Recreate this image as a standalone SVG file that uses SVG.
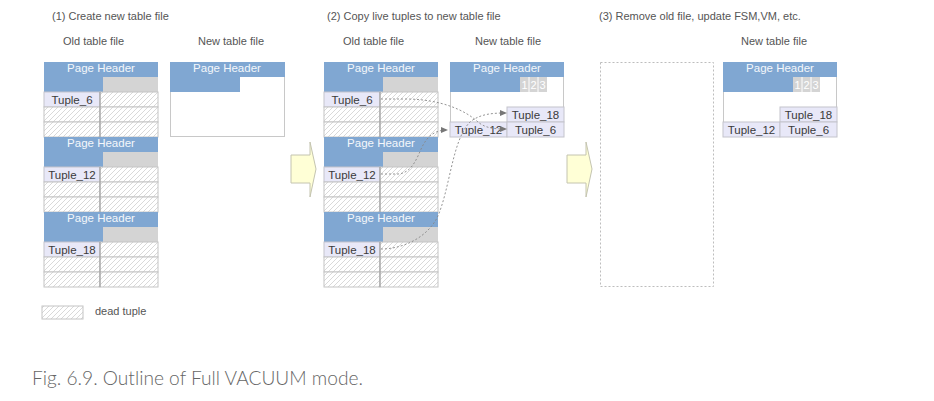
<svg xmlns="http://www.w3.org/2000/svg" width="934" height="401" viewBox="0 0 934 401">
<style>
text{font-family:"Liberation Sans",Arial,sans-serif;}
.lbl{font-size:11px;fill:#555;}
.ph{font-size:11.5px;fill:#f4f7fb;text-anchor:middle;}
.tt{font-size:11.5px;fill:#3a3a3a;text-anchor:middle;}
.num{font-size:11px;fill:#fff;text-anchor:middle;}
.hdr{fill:#80a7d2;}
.gray{fill:#d4d4d4;}
.tup{fill:#e8e8f8;stroke:#c4c4cc;stroke-width:1;}
.dead{fill:url(#hatch);stroke:#c4c4c4;stroke-width:1;}
.div{stroke:#9a9a9a;stroke-width:1;}
.frame{fill:#fff;stroke:#c8c8c8;stroke-width:1;}
.conn{fill:none;stroke:#888;stroke-width:0.9;stroke-dasharray:2,2;}
.big{fill:#ffffd6;stroke:#c4c4b0;stroke-width:1;}
</style>
<defs>
<pattern id="hatch" patternUnits="userSpaceOnUse" width="5" height="5">
<rect width="5" height="5" fill="#fff"/>
<path d="M0,5 L5,0 M-1,1 L1,-1 M4,6 L6,4" stroke="#cfcfcf" stroke-width="0.8"/>
</pattern>
<marker id="ah" markerWidth="7" markerHeight="6" refX="6" refY="3" orient="auto" markerUnits="userSpaceOnUse">
<path d="M0,0 L7,3 L0,6 z" fill="#777"/>
</marker>
</defs>
<rect width="934" height="401" fill="#fff"/>

<g id="titles">
<text class="lbl" x="52" y="20">(1) Create new table file</text>
<text class="lbl" x="63" y="45">Old table file</text>
<text class="lbl" x="198" y="45">New table file</text>
<text class="lbl" x="327" y="20">(2) Copy live tuples to new table file</text>
<text class="lbl" x="343" y="45">Old table file</text>
<text class="lbl" x="475" y="45">New table file</text>
<text class="lbl" x="599" y="20">(3) Remove old file, update FSM,VM, etc.</text>
<text class="lbl" x="741" y="45">New table file</text>
</g>

<!-- Panel 1 old table file -->
<g id="p1-old-page1">
<rect class="hdr" x="44" y="62" width="114" height="30"/>
<rect class="gray" x="103" y="77" width="55" height="15"/>
<text class="ph" x="101" y="72">Page Header</text>
<rect class="tup" x="44" y="92" width="56" height="15"/>
<rect class="dead" x="100" y="92" width="58" height="15"/>
<rect class="dead" x="44" y="107" width="56" height="15"/>
<rect class="dead" x="100" y="107" width="58" height="15"/>
<rect class="dead" x="44" y="122" width="56" height="15"/>
<rect class="dead" x="100" y="122" width="58" height="15"/>
<line class="div" x1="100" y1="92" x2="100" y2="137"/>
<text class="tt" x="72" y="104">Tuple_6</text>
</g>
<g id="p1-old-page2">
<rect class="hdr" x="44" y="137" width="114" height="30"/>
<rect class="gray" x="103" y="152" width="55" height="15"/>
<text class="ph" x="101" y="147">Page Header</text>
<rect class="tup" x="44" y="167" width="56" height="15"/>
<rect class="dead" x="100" y="167" width="58" height="15"/>
<rect class="dead" x="44" y="182" width="56" height="15"/>
<rect class="dead" x="100" y="182" width="58" height="15"/>
<rect class="dead" x="44" y="197" width="56" height="15"/>
<rect class="dead" x="100" y="197" width="58" height="15"/>
<line class="div" x1="100" y1="167" x2="100" y2="212"/>
<text class="tt" x="72" y="179">Tuple_12</text>
</g>
<g id="p1-old-page3">
<rect class="hdr" x="44" y="212" width="114" height="30"/>
<rect class="gray" x="103" y="227" width="55" height="15"/>
<text class="ph" x="101" y="222">Page Header</text>
<rect class="tup" x="44" y="242" width="56" height="15"/>
<rect class="dead" x="100" y="242" width="58" height="15"/>
<rect class="dead" x="44" y="257" width="56" height="15"/>
<rect class="dead" x="100" y="257" width="58" height="15"/>
<rect class="dead" x="44" y="272" width="56" height="15"/>
<rect class="dead" x="100" y="272" width="58" height="15"/>
<line class="div" x1="100" y1="242" x2="100" y2="287"/>
<text class="tt" x="72" y="254">Tuple_18</text>
</g>

<!-- Panel 1 new table file -->
<g id="p1-new">
<rect class="frame" x="170.5" y="62.5" width="114" height="74"/>
<rect class="hdr" x="170" y="62" width="115" height="15"/>
<rect class="hdr" x="170" y="77" width="70" height="15"/>
<text class="ph" x="227" y="72">Page Header</text>
</g>

<!-- Big arrows -->
<g id="arrow1">
<polygon class="big" points="291,155 310,155 310,142 316,169 310,197 310,183 291,183"/>
</g>
<g id="arrow2">
<polygon class="big" points="567,155 586,155 586,142 592,169 586,197 586,183 567,183"/>
</g>

<!-- Panel 2 old table file -->
<g id="p2-old-page1">
<rect class="hdr" x="324" y="62" width="114" height="30"/>
<rect class="gray" x="383" y="77" width="55" height="15"/>
<text class="ph" x="381" y="72">Page Header</text>
<rect class="tup" x="324" y="92" width="56" height="15"/>
<rect class="dead" x="380" y="92" width="58" height="15"/>
<rect class="dead" x="324" y="107" width="56" height="15"/>
<rect class="dead" x="380" y="107" width="58" height="15"/>
<rect class="dead" x="324" y="122" width="56" height="15"/>
<rect class="dead" x="380" y="122" width="58" height="15"/>
<line class="div" x1="380" y1="92" x2="380" y2="137"/>
<text class="tt" x="352" y="104">Tuple_6</text>
</g>
<g id="p2-old-page2">
<rect class="hdr" x="324" y="137" width="114" height="30"/>
<rect class="gray" x="383" y="152" width="55" height="15"/>
<text class="ph" x="381" y="147">Page Header</text>
<rect class="tup" x="324" y="167" width="56" height="15"/>
<rect class="dead" x="380" y="167" width="58" height="15"/>
<rect class="dead" x="324" y="182" width="56" height="15"/>
<rect class="dead" x="380" y="182" width="58" height="15"/>
<rect class="dead" x="324" y="197" width="56" height="15"/>
<rect class="dead" x="380" y="197" width="58" height="15"/>
<line class="div" x1="380" y1="167" x2="380" y2="212"/>
<text class="tt" x="352" y="179">Tuple_12</text>
</g>
<g id="p2-old-page3">
<rect class="hdr" x="324" y="212" width="114" height="30"/>
<rect class="gray" x="383" y="227" width="55" height="15"/>
<text class="ph" x="381" y="222">Page Header</text>
<rect class="tup" x="324" y="242" width="56" height="15"/>
<rect class="dead" x="380" y="242" width="58" height="15"/>
<rect class="dead" x="324" y="257" width="56" height="15"/>
<rect class="dead" x="380" y="257" width="58" height="15"/>
<rect class="dead" x="324" y="272" width="56" height="15"/>
<rect class="dead" x="380" y="272" width="58" height="15"/>
<line class="div" x1="380" y1="242" x2="380" y2="287"/>
<text class="tt" x="352" y="254">Tuple_18</text>
</g>

<!-- Panel 2 new table file -->
<g id="p2-new">
<rect class="frame" x="450.5" y="62.5" width="113" height="74"/>
<rect class="hdr" x="450" y="62" width="114" height="15"/>
<rect class="hdr" x="450" y="77" width="70" height="15"/>
<rect class="gray" x="520" y="77" width="27" height="15"/>
<line x1="529" y1="77" x2="529" y2="92" stroke="#fff" stroke-width="1"/>
<line x1="538" y1="77" x2="538" y2="92" stroke="#fff" stroke-width="1"/>
<text class="num" x="524.5" y="89">1</text>
<text class="num" x="533.5" y="89">2</text>
<text class="num" x="542.5" y="89">3</text>
<text class="ph" x="507" y="72">Page Header</text>
<rect class="tup" x="507" y="107" width="57" height="15"/>
<rect class="tup" x="450" y="122" width="57" height="15"/>
<rect class="tup" x="507" y="122" width="57" height="15"/>
<text class="tt" x="535.5" y="119">Tuple_18</text>
<text class="tt" x="478.5" y="134">Tuple_12</text>
<text class="tt" x="535.5" y="134">Tuple_6</text>
</g>

<!-- Panel 3 -->
<g id="p3-old-removed">
<rect x="600.5" y="62.5" width="113" height="224" fill="none" stroke="#bdbdbd" stroke-width="1" stroke-dasharray="2,2"/>
</g>
<g id="p3-new">
<rect class="frame" x="723.5" y="62.5" width="113" height="74"/>
<rect class="hdr" x="723" y="62" width="114" height="15"/>
<rect class="hdr" x="723" y="77" width="70" height="15"/>
<rect class="gray" x="793" y="77" width="27" height="15"/>
<line x1="802" y1="77" x2="802" y2="92" stroke="#fff" stroke-width="1"/>
<line x1="811" y1="77" x2="811" y2="92" stroke="#fff" stroke-width="1"/>
<text class="num" x="797.5" y="89">1</text>
<text class="num" x="806.5" y="89">2</text>
<text class="num" x="815.5" y="89">3</text>
<text class="ph" x="780" y="72">Page Header</text>
<rect class="tup" x="780" y="107" width="57" height="15"/>
<rect class="tup" x="723" y="122" width="57" height="15"/>
<rect class="tup" x="780" y="122" width="57" height="15"/>
<text class="tt" x="808.5" y="119">Tuple_18</text>
<text class="tt" x="751.5" y="134">Tuple_12</text>
<text class="tt" x="808.5" y="134">Tuple_6</text>
</g>

<!-- Connectors -->
<g id="connectors">
<path class="conn" d="M381,99 H405 C440,99 465,110 478,122 C485,128 494,129 506,129" marker-end="url(#ah)"/>
<path class="conn" d="M381,174 H398 C412,173 417,158 422,147 C428,135 436,130 447,130" marker-end="url(#ah)"/>
<path class="conn" d="M381,249 C400,249 425,240 437,218 C450,190 452,140 470,122 C480,114 492,113 506,113" marker-end="url(#ah)"/>
</g>

<g id="legend">
<rect class="dead" x="42" y="306" width="41" height="13"/>
<text class="lbl" x="95" y="315">dead tuple</text>
</g>

<text x="32" y="385" textLength="331" lengthAdjust="spacingAndGlyphs" style="font-family:Lato,'Open Sans',sans-serif;font-size:20px;font-weight:300;fill:#666;">Fig. 6.9. Outline of Full VACUUM mode.</text>
</svg>
